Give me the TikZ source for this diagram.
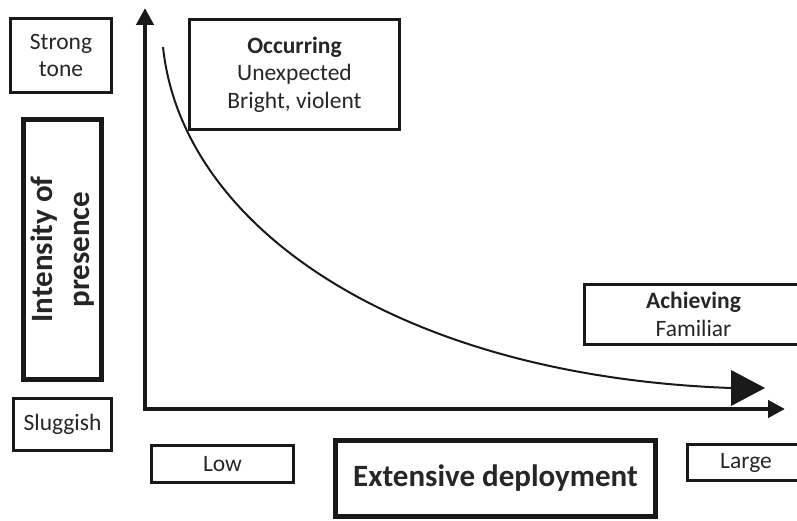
\documentclass[tikz,border=0pt]{standalone}
\usepackage{fontspec}
\setmainfont{Carlito}
\usetikzlibrary{arrows.meta}
\begin{document}
\begin{tikzpicture}[x=1pt,y=-1pt,
  box/.style={draw=black!90,line width=2.6pt,inner sep=0pt,align=center,text=black!85,font=\fontsize{23.5}{27.5}\selectfont},
  bigbox/.style={box,line width=5pt,font=\fontsize{31}{37}\selectfont\bfseries},
  axis/.style={draw=black!90,line width=4.5pt,line join=miter},
  curve/.style={draw=black!90,line width=2pt}]
\useasboundingbox (0,0) rectangle (797,521);
\clip (0,0) rectangle (797,521);
% left labels
\node[box,minimum width=101pt,minimum height=74pt] (strong) at (61,55.5) {Strong\\tone};
\node[bigbox,rotate=90,minimum width=260pt,minimum height=78pt] (intensity) at (62.5,249.5) {Intensity of\\presence};
\node[box,minimum width=98pt,minimum height=52pt] (sluggish) at (62.5,424.5) {Sluggish};
% bottom labels
\node[box,minimum width=142pt,minimum height=37pt] (low) at (222.5,464) {Low};
\node[bigbox,minimum width=320pt,minimum height=76pt] (extensive) at (495.5,478.5) {Extensive deployment};
\node[box,minimum width=117pt,minimum height=36pt] (large) at (746,462.5) {Large};
% in-plot labels
\node[box,minimum width=210.4pt,minimum height=110.4pt] (occurring) at (294.5,74.5) {\textbf{Occurring}\\Unexpected\\Bright, violent};
\node[box,minimum width=218pt,minimum height=60pt] (achieving) at (693.5,314.5) {\textbf{Achieving}\\Familiar};
% axes
\coordinate (ytop) at (145,8);
\coordinate (origin) at (145,409);
\coordinate (xend) at (785,409);
\draw[axis,{Triangle[length=17pt,width=17pt]}-{Triangle[length=17pt,width=17pt]}] (ytop) -- (origin) -- (xend);
% curve
\coordinate (cstart) at (163,47);
\coordinate (cend) at (731,388);
\draw[curve] (cstart) .. controls (182,228) and (400,376) .. (cend);
\fill[black!90] (731,370) -- (765,388) -- (731,406) -- cycle;
\end{tikzpicture}
\end{document}
